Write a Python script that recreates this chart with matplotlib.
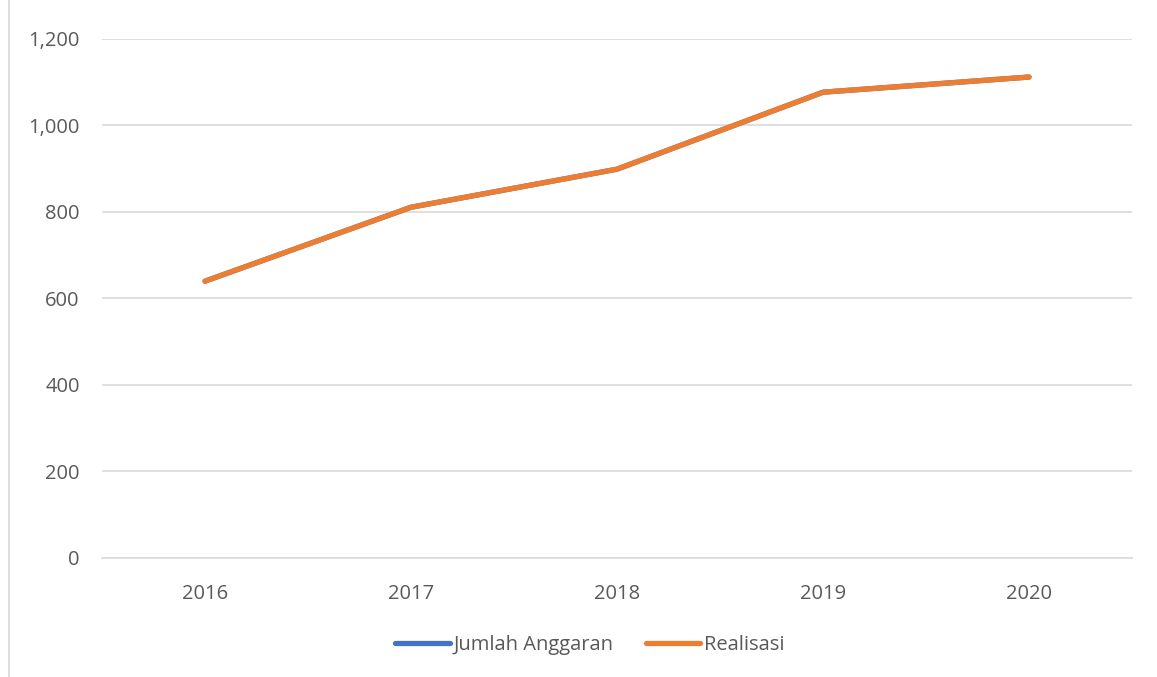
import matplotlib.pyplot as plt
from matplotlib.ticker import FuncFormatter, MultipleLocator
from matplotlib.lines import Line2D

years = ['2016', '2017', '2018', '2019', '2020']
jumlah_anggaran = [640, 811, 899, 1077, 1112]
realisasi = [640, 811, 899, 1077, 1112]

plt.rcParams['font.family'] = ['Open Sans', 'DejaVu Sans']
txt = '#595959'

fig = plt.figure(figsize=(11.57, 6.77), dpi=100)
ax = fig.add_axes([0.0882, 0.1758, 0.8902, 0.7666])

x = range(len(years))
ax.plot(x, jumlah_anggaran, color='#4472C4', lw=3.8, solid_capstyle='round', label='Jumlah Anggaran')
ax.plot(x, realisasi, color='#ED7D31', lw=3.8, solid_capstyle='round', label='Realisasi')

ax.set_xlim(-0.5, len(years) - 0.5)
ax.set_ylim(0, 1200)
ax.yaxis.set_major_locator(MultipleLocator(200))
ax.yaxis.set_major_formatter(FuncFormatter(lambda v, p: f'{int(v):,}'))
ax.set_xticks(list(x))
ax.set_xticklabels(years)
ax.grid(axis='y', color='#D9D9D9', lw=1.2)
ax.set_axisbelow(True)
for s in ['top', 'right', 'left']:
    ax.spines[s].set_visible(False)
ax.spines['bottom'].set_color('#D9D9D9')
ax.spines['bottom'].set_linewidth(1.2)
ax.tick_params(axis='both', length=0, labelsize=14.5, colors=txt)
ax.tick_params(axis='y', pad=16)
ax.tick_params(axis='x', pad=19)

# chart frame edge on the left
fig.add_artist(Line2D([0.0075, 0.0075], [0, 1], color='#D9D9D9', lw=1.2))

handles, labels = ax.get_legend_handles_labels()
fig.legend(handles, labels, loc='center', bbox_to_anchor=(0.51, 0.047), ncol=2,
           frameon=False, fontsize=14.5, labelcolor=txt, handlelength=2.7,
           handletextpad=0.2, columnspacing=1.6)

plt.savefig('out.png', dpi=100)
